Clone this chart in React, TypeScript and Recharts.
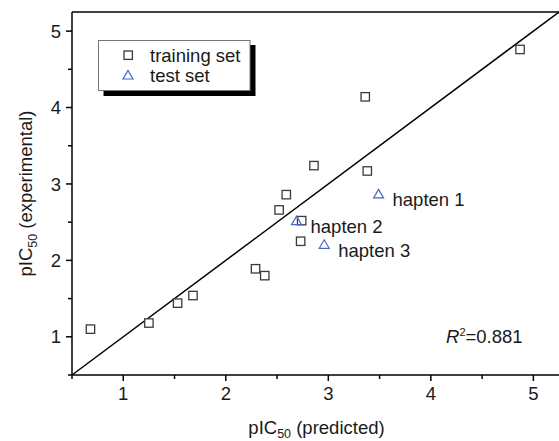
import React from 'react';
import { ScatterChart, Scatter, XAxis, YAxis, ReferenceLine, LabelList } from 'recharts';

const trainPred = [0.68, 1.25, 1.53, 1.68, 2.29, 2.38, 2.52, 2.59, 2.74, 2.73, 2.86, 3.36, 3.38, 4.87];
const trainExp = [1.10, 1.18, 1.44, 1.54, 1.89, 1.80, 2.66, 2.86, 2.52, 2.25, 3.24, 4.14, 3.17, 4.76];
const testPred = [3.49, 2.69, 2.96];
const testExp = [2.87, 2.52, 2.21];
const testNames = ['hapten 1', 'hapten 2', 'hapten 3'];
const axisTicks = [0.5, 1, 1.5, 2, 2.5, 3, 3.5, 4, 4.5, 5];
const axisDomain = [0.5, 5.25];
const r2Value = '0.881';

const trainData = trainPred.map((x, i) => ({ x, y: trainExp[i] }));
const testData = testPred.map((x, i) => ({ x, y: testExp[i], name: testNames[i] }));

const FONT = '"Liberation Sans", Arial, sans-serif';
const FS = 18.5;
const TEXT = '#1a1a1a';
const BLUE = '#4a63c8';
const SQ = '#3a3a3a';

const SquareShape = (props: any) => {
  const { cx, cy } = props;
  return <rect x={cx - 4.2} y={cy - 4.2} width={8.4} height={8.4} fill="#fff" stroke={SQ} strokeWidth={1.3} />;
};

const TriShape = (props: any) => {
  const { cx, cy } = props;
  const p = `${cx},${cy - 4.5} ${cx + 5},${cy + 4} ${cx - 5},${cy + 4}`;
  return <polygon points={p} fill="none" stroke={BLUE} strokeWidth={1.2} />;
};

const XTick = (props: any) => {
  const { x, y, payload } = props;
  const v = payload.value;
  const major = Number.isInteger(v);
  return (
    <g>
      <line x1={x} y1={y} x2={x} y2={y + (major ? 6 : 4)} stroke="#000" strokeWidth={1.5} />
      {major && (
        <text x={x} y={y + 25} textAnchor="middle" fontFamily={FONT} fontSize={FS} fill={TEXT}>
          {v}
        </text>
      )}
    </g>
  );
};

const YTick = (props: any) => {
  const { x, y, payload } = props;
  const v = payload.value;
  const major = Number.isInteger(v);
  return (
    <g>
      <line x1={x} y1={y} x2={x - (major ? 6 : 4)} y2={y} stroke="#000" strokeWidth={1.5} />
      {major && (
        <text x={x - 11} y={y + 6.6} textAnchor="end" fontFamily={FONT} fontSize={FS} fill={TEXT}>
          {v}
        </text>
      )}
    </g>
  );
};

const HaptenLabel = (props: any) => {
  const { x, y, width, height, value } = props;
  const cx = x + (width || 0) / 2;
  const cy = y + (height || 0) / 2;
  return (
    <text x={cx + 14} y={cy + 12.5} fontFamily={FONT} fontSize={FS} fill={TEXT}>
      {value}
    </text>
  );
};

export default function App() {
  return (
    <div style={{ position: 'absolute', left: 0, top: 0, width: 559, height: 441, background: '#fff' }}>
      <ScatterChart width={559} height={441} margin={{ top: 12, right: 0, bottom: 0, left: 0 }}>
        <XAxis
          type="number"
          dataKey="x"
          domain={axisDomain}
          ticks={axisTicks}
          interval={0}
          allowDataOverflow
          height={66}
          tickSize={0}
          tickMargin={0}
          tickLine={false}
          tick={<XTick />}
          axisLine={{ stroke: '#000', strokeWidth: 1.5 }}
        />
        <YAxis
          type="number"
          dataKey="y"
          domain={axisDomain}
          ticks={axisTicks}
          interval={0}
          allowDataOverflow
          width={72}
          tickSize={0}
          tickMargin={0}
          tickLine={false}
          tick={<YTick />}
          axisLine={{ stroke: '#000', strokeWidth: 1.5 }}
        />
        <ReferenceLine y={5.25} stroke="#000" strokeWidth={1.5} />
        <ReferenceLine
          segment={[{ x: 0.5, y: 0.5 }, { x: 5.25, y: 5.25 }]}
          stroke="#000"
          strokeWidth={1.5}
        />
        <Scatter data={trainData} shape={<SquareShape />} isAnimationActive={false} />
        <Scatter data={testData} shape={<TriShape />} isAnimationActive={false}>
          <LabelList dataKey="name" content={<HaptenLabel />} />
        </Scatter>
      </ScatterChart>
      <svg
        width={559}
        height={441}
        style={{ position: 'absolute', left: 0, top: 0, pointerEvents: 'none' }}
      >
        {/* legend */}
        <rect x={103.5} y={45} width={152} height={51} fill="#000" />
        <rect x={98.5} y={40.5} width={151.5} height={50} fill="#fff" stroke="#777" strokeWidth={1} />
        <rect x={124} y={51} width={8.4} height={8.4} fill="#fff" stroke={SQ} strokeWidth={1.3} />
        <text x={150} y={61.6} fontFamily={FONT} fontSize={FS} fill={TEXT}>training set</text>
        <polygon points="128,70.5 133,79 123,79" fill="none" stroke={BLUE} strokeWidth={1.2} />
        <text x={150} y={81.6} fontFamily={FONT} fontSize={FS} fill={TEXT}>test set</text>
        {/* R squared */}
        <text x={446} y={343.3} fontFamily={FONT} fontSize={FS} fill={TEXT}>
          <tspan fontStyle="italic">R</tspan>
          <tspan fontSize={11} dy={-7.5}>2</tspan>
          <tspan dy={7.5}>={r2Value}</tspan>
        </text>
        {/* x title */}
        <text x={316.5} y={434} textAnchor="middle" fontFamily={FONT} fontSize={FS} fill={TEXT}>
          pIC<tspan fontSize={12.5} dy={4}>50</tspan>
          <tspan dy={-4}> (predicted)</tspan>
        </text>
        {/* y title */}
        <text
          x={32}
          y={193.5}
          transform="rotate(-90, 32, 193.5)"
          textAnchor="middle"
          fontFamily={FONT}
          fontSize={FS}
          fill={TEXT}
        >
          pIC<tspan fontSize={12.5} dy={5}>50</tspan>
          <tspan dy={-5}>  (experimental)</tspan>
        </text>
      </svg>
    </div>
  );
}
